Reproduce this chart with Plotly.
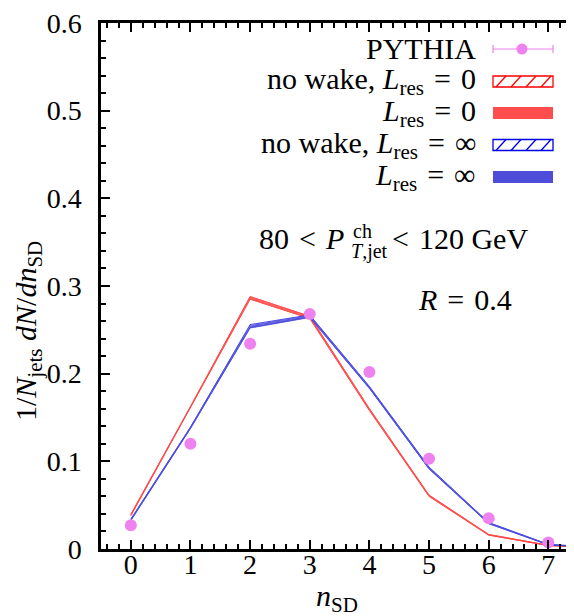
import plotly.graph_objects as go

# ---------------- data ----------------
n_vals = [0, 1, 2, 3, 4, 5, 6, 7, 8]
pythia_n = [0, 1, 2, 3, 4, 5, 6, 7]
pythia = [0.027, 0.120, 0.234, 0.268, 0.202, 0.103, 0.035, 0.0075]
pythia_err = [0.001, 0.001, 0.001, 0.001, 0.001, 0.001, 0.001, 0.0005]

red_nowake_lo = [0.0380, 0.1610, 0.2850, 0.2630, 0.1580, 0.0600, 0.0158, 0.0038, 0.0009]
red_nowake_hi = [0.0395, 0.1625, 0.2880, 0.2655, 0.1600, 0.0615, 0.0166, 0.0043, 0.0011]
red_lo = [0.0382, 0.1612, 0.2850, 0.2632, 0.1583, 0.0602, 0.0159, 0.0039, 0.0009]
red_hi = [0.0395, 0.1625, 0.2878, 0.2655, 0.1600, 0.0615, 0.0166, 0.0043, 0.0011]

blue_nowake_lo = [0.0325, 0.1375, 0.2525, 0.2645, 0.1835, 0.0915, 0.0290, 0.0047, 0.0009]
blue_nowake_hi = [0.0340, 0.1390, 0.2560, 0.2670, 0.1855, 0.0935, 0.0302, 0.0053, 0.0011]
blue_lo = [0.0325, 0.1375, 0.2520, 0.2640, 0.1830, 0.0913, 0.0289, 0.0047, 0.0009]
blue_hi = [0.0340, 0.1390, 0.2550, 0.2665, 0.1850, 0.0930, 0.0300, 0.0053, 0.0011]

x_ticks = [0, 1, 2, 3, 4, 5, 6, 7]
y_ticks = [0, 0.1, 0.2, 0.3, 0.4, 0.5, 0.6]
y_tick_text = ["0", "0.1", "0.2", "0.3", "0.4", "0.5", "0.6"]

EQ = "\u2004=\u2004"
legend_labels = [
    "PYTHIA",
    "no wake, <i>L</i><sub>res</sub>" + EQ + "0",
    "<i>L</i><sub>res</sub>" + EQ + "0",
    "no wake, <i>L</i><sub>res</sub>" + EQ + "∞",
    "<i>L</i><sub>res</sub>" + EQ + "∞",
]

# ---------------- styles ----------------
FONT = "Liberation Serif"
FS = 28
FT = 30
RED_LINE = "rgb(255,0,0)"
RED_FILL = "rgb(255,77,77)"
BLUE_LINE = "rgb(0,0,230)"
BLUE_FILL = "rgb(77,77,217)"
VIOLET = "rgb(238,130,238)"

# page has an 8px body margin: figure is drawn from screen (8, 8)
OFF = 8
W, H = 574 - OFF, 616 - OFF
# plot area in screen pixels
L, R, T, B = 101, 574, 23, 549


def px(xp):
    return (xp - L) / (R - L)


def py(yp):
    return (B - yp) / (B - T)


def band(lo, hi):
    xs = list(n_vals) + list(n_vals)[::-1]
    ys = list(hi) + list(lo)[::-1]
    return xs, ys


fig = go.Figure()

for lo, hi, line_c, fill_c, hatched in [
    (red_nowake_lo, red_nowake_hi, RED_LINE, RED_FILL, True),
    (red_lo, red_hi, RED_LINE, RED_FILL, False),
    (blue_nowake_lo, blue_nowake_hi, BLUE_LINE, BLUE_FILL, True),
    (blue_lo, blue_hi, BLUE_LINE, BLUE_FILL, False),
]:
    xs, ys = band(lo, hi)
    if hatched:
        fig.add_trace(go.Scatter(
            x=xs, y=ys, mode="lines", fill="toself",
            fillcolor="rgba(255,255,255,0)",
            fillpattern=dict(shape="/", fgcolor=line_c, bgcolor="white", size=6, solidity=0.2),
            line=dict(color=line_c, width=0.7),
            showlegend=False, hoverinfo="skip"))
    else:
        fig.add_trace(go.Scatter(
            x=xs, y=ys, mode="lines", fill="toself",
            fillcolor=fill_c, line=dict(color=fill_c, width=0.8),
            opacity=0.85,
            showlegend=False, hoverinfo="skip"))

fig.add_trace(go.Scatter(
    x=pythia_n, y=pythia, mode="markers",
    marker=dict(color=VIOLET, size=12, line=dict(width=0)),
    error_y=dict(type="data", array=pythia_err, color=VIOLET, thickness=1, width=3),
    showlegend=False))

shapes = []
annotations = []

rows_y = [49, 81.5, 113, 145, 177]
sw_x0, sw_x1 = 493, 553
for i, (lab, yc) in enumerate(zip(legend_labels, rows_y)):
    annotations.append(dict(
        x=px(478), y=py(yc), text=lab, xanchor="right", yanchor="middle",
        font=dict(family=FONT, size=FT)))
    if i == 0:
        shapes.append(dict(type="line", xref="paper", yref="paper",
                           x0=px(sw_x0), x1=px(sw_x1), y0=py(yc), y1=py(yc),
                           line=dict(color=VIOLET, width=1.2)))
        for xe in (sw_x0, sw_x1):
            shapes.append(dict(type="line", xref="paper", yref="paper",
                               x0=px(xe), x1=px(xe), y0=py(yc - 4), y1=py(yc + 4),
                               line=dict(color=VIOLET, width=1.2)))
        shapes.append(dict(type="circle", xref="paper", yref="paper",
                           x0=px(522 - 5.5), x1=px(522 + 5.5), y0=py(yc - 5.5), y1=py(yc + 5.5),
                           fillcolor=VIOLET, line=dict(width=0)))
    elif i in (1, 3):
        c = RED_LINE if i == 1 else BLUE_LINE
        shapes.append(dict(type="rect", xref="paper", yref="paper",
                           x0=px(sw_x0), x1=px(sw_x1), y0=py(yc - 5.5), y1=py(yc + 5.5),
                           line=dict(color=c, width=1.3), fillcolor="white"))
        for xb in (496, 511, 526, 541):
            shapes.append(dict(type="line", xref="paper", yref="paper",
                               x0=px(xb), x1=px(xb + 10), y0=py(yc + 5.5), y1=py(yc - 5.5),
                               line=dict(color=c, width=1.3)))
    else:
        c = RED_FILL if i == 2 else BLUE_FILL
        shapes.append(dict(type="rect", xref="paper", yref="paper",
                           x0=px(sw_x0), x1=px(sw_x1), y0=py(yc - 6), y1=py(yc + 6),
                           line=dict(width=0), fillcolor=c))

annotations += [
    dict(x=px(346), y=py(239), text="80" + "\u2004<\u2004" + "<i>P</i>", xanchor="right", yanchor="middle",
         font=dict(family=FONT, size=FT)),
    dict(x=px(351), y=py(231), text="ch", xanchor="left", yanchor="middle",
         font=dict(family=FONT, size=20)),
    dict(x=px(349), y=py(251), text="<i>T</i>,jet", xanchor="left", yanchor="middle",
         font=dict(family=FONT, size=20)),
    dict(x=px(390), y=py(239), text="<\u2004120 GeV", xanchor="left", yanchor="middle",
         font=dict(family=FONT, size=FT)),
    dict(x=px(465), y=py(299), text="<i>R</i>" + EQ + "0.4", xanchor="center", yanchor="middle",
         font=dict(family=FONT, size=FT)),
    dict(x=px(28), y=py(331), text="1/<i>N</i><sub>jets</sub> <i>dN</i>/<i>dn</i><sub>SD</sub>",
         textangle=-90, xanchor="center", yanchor="middle",
         font=dict(family=FONT, size=FT)),
    dict(x=px(337), y=py(598), text="<i>n</i><sub>SD</sub>", xanchor="center", yanchor="middle",
         font=dict(family=FONT, size=FT)),
]
for a in annotations:
    a.setdefault("xref", "paper")
    a.setdefault("yref", "paper")
    a.setdefault("showarrow", False)
    a["font"].setdefault("color", "black")

fig.update_layout(
    width=W, height=H,
    margin=dict(l=L - OFF, r=574 - R, t=T - OFF, b=616 - B, pad=0, autoexpand=False),
    paper_bgcolor="white", plot_bgcolor="white",
    font=dict(family=FONT, size=FS, color="black"),
    shapes=shapes, annotations=annotations,
    showlegend=False,
)
fig.update_xaxes(
    range=[-0.5, 7.43], tickvals=x_ticks, ticktext=[str(v) for v in x_ticks],
    ticks="inside", ticklen=9, tickwidth=2, tickcolor="black",
    showline=True, linecolor="black", linewidth=2.5, mirror="ticks",
    showgrid=False, zeroline=False, automargin=False,
    minor=dict(dtick=0.2, tick0=0, ticks="inside", ticklen=5, tickwidth=1.5, tickcolor="black"),
    tickfont=dict(family=FONT, size=FS), ticklabelstandoff=-11,
    ticklabeloverflow="allow",
)
fig.update_yaxes(
    range=[0, 0.6], tickvals=y_ticks, ticktext=y_tick_text,
    ticks="inside", ticklen=9, tickwidth=2, tickcolor="black",
    showline=True, linecolor="black", linewidth=2.5,
    showgrid=False, zeroline=False, automargin=False,
    minor=dict(dtick=0.02, tick0=0, ticks="inside", ticklen=5, tickwidth=1.5, tickcolor="black"),
    tickfont=dict(family=FONT, size=FS), ticklabelstandoff=11,
    ticklabeloverflow="allow",
)

fig.write_html("out.html")
